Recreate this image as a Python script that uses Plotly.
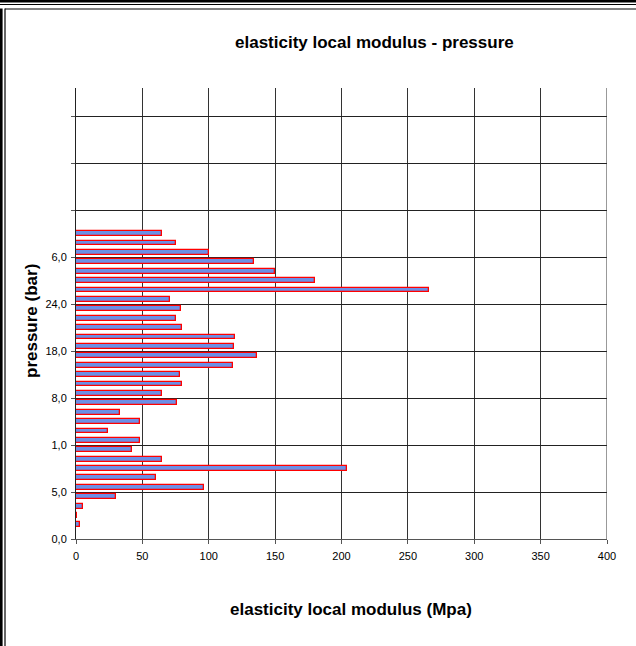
import plotly.graph_objects as go

# ---- data ----
pressure_tick_labels = ["0,0", "5,0", "1,0", "8,0", "18,0", "24,0", "6,0", "", "", ""]
modulus_mpa = [0, 3, 1, 5, 30, 96.5, 60.5, 204, 65, 42, 48, 24, 48, 33, 76, 65,
               80, 78, 118, 136.5, 119, 119.5, 80, 75, 79, 71, 266, 180, 150,
               134, 100, 75, 65]
n_categories = 48          # category slots on the pressure axis
label_every = 5            # a tick label every 5 categories
x_ticks = [0, 50, 100, 150, 200, 250, 300, 350, 400]

# ---- geometry ----
W, H = 636, 646
L, R, T, B = 76, 607, 88, 539


def px(x):
    return (x - L) / (R - L)


def py(y):
    return (B - y) / (B - T)


FONT = "Liberation Sans, Arial, sans-serif"

positions = [i + 0.5 for i in range(len(modulus_mpa))]

fig = go.Figure()
fig.add_trace(go.Bar(
    x=modulus_mpa, y=positions, orientation="h", width=0.52,
    marker=dict(color="#6C8FE6", line=dict(color="#FF0000", width=1.3)),
    hoverinfo="x",
))

shapes = []
# right boundary line at 400
shapes.append(dict(type="line", xref="x", yref="paper", x0=400, x1=400, y0=0, y1=1,
                   line=dict(color="#333", width=1)))


# page frame (double line top and left)
def rect(x0, y0, x1, y1):
    return dict(type="rect", xref="paper", yref="paper",
                x0=px(x0), x1=px(x1), y0=py(y1), y1=py(y0),
                fillcolor="black", line=dict(width=0), layer="above")


shapes += [
    rect(0, 0, W, 2.6),
    rect(0, 4, W, 5),
    rect(5, 8.6, W, 9.6),
    rect(0, 8.6, 2.6, H),
    rect(4.4, 8.6, 5.6, H),
]

fig.update_layout(
    width=W, height=H,
    margin=dict(l=L, r=W - R, t=T, b=H - B, pad=0),
    paper_bgcolor="white", plot_bgcolor="white",
    showlegend=False, bargap=0,
    font=dict(family=FONT, size=11, color="black"),
    xaxis=dict(
        range=[0, 400], tickvals=x_ticks, ticktext=[str(v) for v in x_ticks],
        showgrid=True, gridcolor="#333", gridwidth=1,
        showline=True, linecolor="#555", linewidth=1,
        ticks="outside", ticklen=4, tickcolor="#555",
        ticklabelstandoff=3,
        zeroline=False, fixedrange=True,
        tickfont=dict(family=FONT, size=11, color="black"),
    ),
    yaxis=dict(
        range=[0, n_categories],
        tickvals=[i * label_every for i in range(len(pressure_tick_labels))],
        ticktext=pressure_tick_labels,
        showgrid=True, gridcolor="#222", gridwidth=1,
        showline=True, linecolor="#222", linewidth=1,
        ticks="outside", ticklen=4, tickcolor="#555",
        ticklabelstandoff=2,
        zeroline=False, fixedrange=True,
        tickfont=dict(family=FONT, size=11, color="black"),
    ),
    shapes=shapes,
    annotations=[
        dict(text="<b>elasticity local modulus - pressure</b>", xref="paper", yref="paper",
             x=px(374), y=py(43), showarrow=False, xanchor="center", yanchor="middle",
             font=dict(family=FONT, size=17, color="black")),
        dict(text="<b>elasticity local modulus (Mpa)</b>", xref="paper", yref="paper",
             x=px(351), y=py(609), showarrow=False, xanchor="center", yanchor="middle",
             font=dict(family=FONT, size=17, color="black")),
        dict(text="<b>pressure (bar)</b>", xref="paper", yref="paper",
             x=px(31), y=py(321), showarrow=False, xanchor="center", yanchor="middle",
             textangle=-90, font=dict(family=FONT, size=17, color="black")),
    ],
)

fig.write_html("out.html")
